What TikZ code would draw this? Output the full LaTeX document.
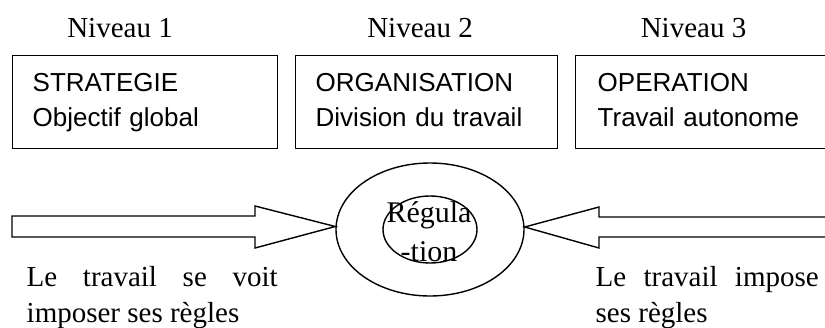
\documentclass[tikz,border=0pt]{standalone}
\usepackage{fontspec}
\setmainfont{Liberation Serif}
\setsansfont{Liberation Sans}
\usetikzlibrary{shapes.geometric}
\hbadness=10000
\tolerance=10000
\hyphenpenalty=10000
\exhyphenpenalty=10000
\begin{document}
\begin{tikzpicture}[x=1pt,y=-1pt,
  line width=1.4pt,
  level/.style={font=\fontsize{29}{35}\selectfont, anchor=base, inner sep=0pt},
  boxnode/.style={draw, rectangle, anchor=north west, minimum height=93pt,
     inner ysep=0pt, align=left, font=\sffamily\fontsize{26}{35}\selectfont},
  ring/.style={draw, ellipse, inner sep=0pt},
  caption/.style={font=\fontsize{29}{36}\selectfont, anchor=base west, inner sep=0pt, align=justify},
  fatarrow/.style={draw, line join=miter}
]
\useasboundingbox (0,0) rectangle (825,327);
\clip (0,0) rectangle (825,327);

% level titles
\node[level] (n1) at (120,37) {Niveau 1};
\node[level] (n2) at (420,37) {Niveau 2};
\node[level] (n3) at (693.5,37) {Niveau 3};

% boxes
\node[boxnode, minimum width=265pt, inner xsep=20pt, text width=225pt] (b1) at (12,55)
  {\strut STRATEGIE\\Objectif global\strut};
\node[boxnode, minimum width=262pt, inner xsep=20pt, text width=222pt] (b2) at (295,55)
  {\strut ORGANISATION\\Division du travail\strut};
\node[boxnode, minimum width=275pt, inner xsep=22pt, text width=231pt] (b3) at (575,55)
  {\strut OPERATION\\Travail autonome\strut};

% regulation ellipses
\node[ring, minimum width=188pt, minimum height=133pt] (reg) at (430,229.5) {};
\node[ring, minimum width=94pt, minimum height=67pt] (regin) at (430,229.5) {};
\node[font=\fontsize{30}{39}\selectfont, anchor=base, inner sep=0pt, text width=120pt, align=center]
  (regtxt) at (429,222) {Régula\\-tion};

% arrows
\coordinate (lt) at ([yshift=3pt]reg.west);
\coordinate (rt) at ([yshift=2.5pt]reg.east);
\draw[fatarrow] (12,216) -- (255,216) -- (255,206) -- (lt) -- (255,248) -- (255,237) -- (12,237) -- cycle;
\draw[fatarrow] (840,217) -- (599,217) -- (599,207) -- (rt) -- (599,248) -- (599,237) -- (840,237);

% captions
\node[caption, text width=251pt] (c1) at (26,286) {Le travail se voit imposer ses règles};
\node[caption, text width=223pt] (c2) at (595,286) {Le travail impose ses règles};
\end{tikzpicture}
\end{document}
